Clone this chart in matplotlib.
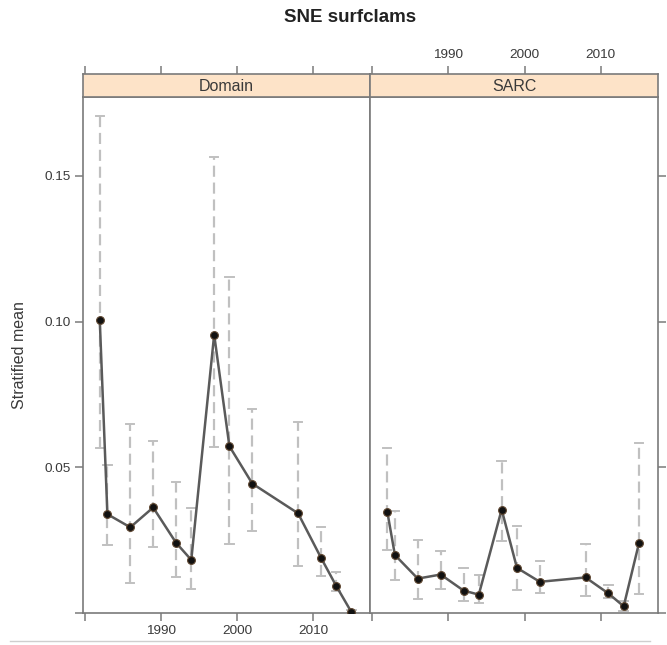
import matplotlib
matplotlib.use("Agg")
import matplotlib.pyplot as plt
from matplotlib.lines import Line2D
import numpy as np

plt.rcParams["font.family"] = ["Liberation Sans", "DejaVu Sans"]

years = [1982, 1983, 1986, 1989, 1992, 1994, 1997, 1999, 2002, 2008, 2011, 2013, 2015]

domain_mean = [0.1004, 0.0339, 0.0294, 0.0362, 0.0241, 0.0182, 0.0955, 0.0572,
               0.0444, 0.0342, 0.0190, 0.0093, 0.0003]
domain_lo = [0.0567, 0.0234, 0.0103, 0.0228, 0.0122, 0.0084, 0.0569, 0.0237,
             0.0282, 0.0162, 0.0127, 0.0075, 0.0000]
domain_hi = [0.1704, 0.0507, 0.0650, 0.0590, 0.0448, 0.0360, 0.1564, 0.1153,
             0.0701, 0.0656, 0.0294, 0.0139, 0.0010]

sarc_mean = [0.0348, 0.0199, 0.0118, 0.0132, 0.0077, 0.0063, 0.0355, 0.0155,
             0.0107, 0.0122, 0.0067, 0.0023, 0.0239]
sarc_lo = [0.0216, 0.0113, 0.0049, 0.0084, 0.0040, 0.0036, 0.0247, 0.0078,
           0.0069, 0.0058, 0.0050, 0.0008, 0.0065]
sarc_hi = [0.0565, 0.0351, 0.0251, 0.0213, 0.0155, 0.0132, 0.0521, 0.0297,
           0.0179, 0.0237, 0.0096, 0.0040, 0.0584]

panels = ["Domain", "SARC"]
x_ticks = [1980, 1990, 2000, 2010]
x_labels = ["", "1990", "2000", "2010"]
y_ticks = [0.0, 0.05, 0.10, 0.15]
y_labels = ["", "0.05", "0.10", "0.15"]

W, H = 667, 645
fig = plt.figure(figsize=(W / 100, H / 100), dpi=100)

frame_col = "#7a7a7a"
text_col = "#3a3a3a"
strip_col = "#fde3c8"
tick_fs = 9.7

left_px, right_px = 83, 658
top_px, bottom_px = 96.5, 613
strip_h = 22.5
pw = (right_px - left_px) / 2

xlim = (1979.8, 2017.5)
ylim = (0.0, 0.1772)

series = [(domain_mean, domain_lo, domain_hi), (sarc_mean, sarc_lo, sarc_hi)]

for i, (name, (m, lo, hi)) in enumerate(zip(panels, series)):
    x0 = left_px + i * pw
    ax = fig.add_axes([x0 / W, 1 - bottom_px / H, pw / W, (bottom_px - top_px) / H])
    ax.set_xlim(*xlim)
    ax.set_ylim(*ylim)

    yrs = np.array(years, dtype=float)
    m = np.array(m); lo = np.array(lo); hi = np.array(hi)

    # confidence intervals: dashed gray whiskers with caps
    cap = 0.55
    for x, l, h in zip(yrs, lo, hi):
        ax.plot([x, x], [l, h], color="#c0c0c0", lw=1.6, ls=(0, (5, 2.6)), zorder=1)
        ax.plot([x - cap, x + cap], [h, h], color="#c0c0c0", lw=1.4, zorder=1)
        ax.plot([x - cap, x + cap], [l, l], color="#c0c0c0", lw=1.4, zorder=1)

    ax.plot(yrs, m, color="#5a5a5a", lw=1.8, zorder=2)
    ax.plot(yrs, m, ls="none", marker="o", ms=5.6, mfc="#111111",
            mec="#5e4630", mew=0.8, zorder=3)

    for s in ax.spines.values():
        s.set_color(frame_col)
        s.set_linewidth(1.2)

    ax.set_xticks(x_ticks)
    ax.set_yticks(y_ticks)
    ax.tick_params(axis="both", direction="out", length=6, width=1.1,
                   color=frame_col, labelcolor=text_col, labelsize=tick_fs, pad=3)

    ax.set_xticklabels(x_labels)
    ax.tick_params(axis="x", top=False, labeltop=False, bottom=True,
                   labelbottom=(i == 0))
    if i == 0:
        ax.set_yticklabels(y_labels)
        ax.tick_params(axis="y", left=True, labelleft=True, right=False)
        ax.set_ylabel("Stratified mean", fontsize=11.5, color=text_col)
        ax.yaxis.set_label_coords(-0.196, 0.5)
    else:
        ax.set_yticklabels([])
        ax.tick_params(axis="y", left=False, right=True, labelleft=False, labelright=False)

    # strip with panel name
    sax = fig.add_axes([x0 / W, 1 - top_px / H, pw / W, strip_h / H])
    sax.set_facecolor(strip_col)
    sax.set_xticks([]); sax.set_yticks([])
    for s in sax.spines.values():
        s.set_color(frame_col)
        s.set_linewidth(1.2)
    sax.text(0.5, 0.45, name, ha="center", va="center", fontsize=11.5,
             color=text_col, transform=sax.transAxes)

    # top x ticks sit above the strip; labels only on the right panel
    tax = fig.add_axes([x0 / W, 1 - (top_px - strip_h) / H, pw / W, 1e-6])
    tax.set_xlim(*xlim)
    tax.set_yticks([])
    for s in tax.spines.values():
        s.set_visible(False)
    tax.patch.set_visible(False)
    tax.set_xticks(x_ticks)
    tax.set_xticklabels(x_labels if i == 1 else [""] * len(x_ticks))
    tax.tick_params(axis="x", bottom=False, labelbottom=False, top=True,
                    labeltop=(i == 1), direction="out", length=6, width=1.1,
                    color=frame_col, labelcolor=text_col, labelsize=tick_fs, pad=3)

fig.text(350 / W, 1 - 17.5 / H, "SNE surfclams", ha="center", va="center",
         fontsize=13.5, fontweight="bold", color="#222222")

fig.add_artist(Line2D([10 / W, 650 / W], [1 - 641 / H, 1 - 641 / H],
                      transform=fig.transFigure, color="#cfcfcf", lw=1))

fig.savefig("out.png", dpi=100)
